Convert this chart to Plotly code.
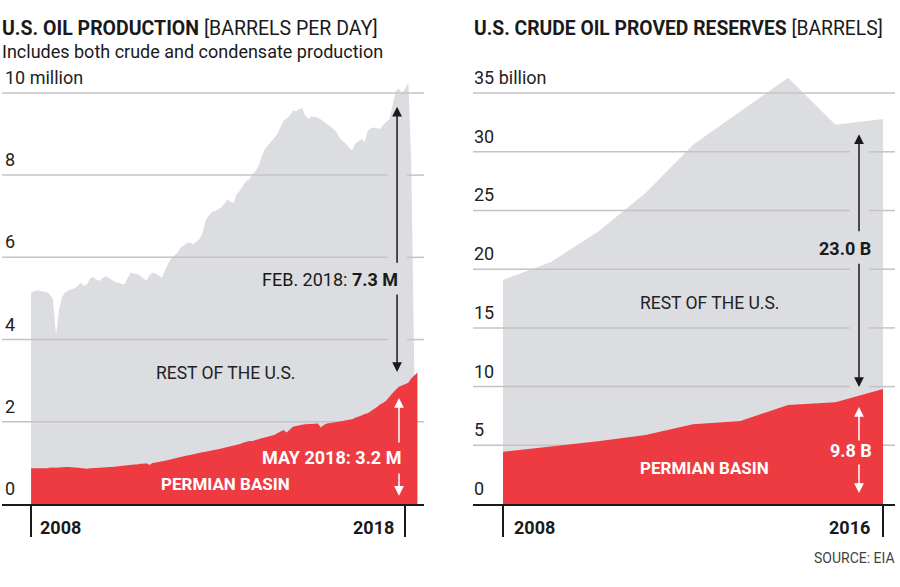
import plotly.graph_objects as go
import pandas as pd

# ---------------- DATA ----------------
# Left: monthly U.S. oil production (million barrels per day), Jan 2008 onward
total_prod = [
    5.15, 5.18, 5.20, 5.18, 5.17, 5.15, 5.10, 4.98, 4.10, 4.75, 5.05, 5.15,   # 2008
    5.20, 5.22, 5.25, 5.30, 5.38, 5.30, 5.35, 5.50, 5.52, 5.45, 5.43, 5.50,   # 2009
    5.54, 5.50, 5.45, 5.40, 5.38, 5.35, 5.34, 5.50, 5.63, 5.60, 5.60, 5.55,   # 2010
    5.48, 5.43, 5.55, 5.63, 5.60, 5.56, 5.51, 5.68, 5.85, 5.97, 6.05, 6.12,   # 2011
    6.24, 6.30, 6.35, 6.36, 6.32, 6.38, 6.44, 6.60, 6.90, 7.02, 7.10, 7.13,   # 2012
    7.17, 7.22, 7.30, 7.40, 7.35, 7.32, 7.54, 7.62, 7.75, 7.85, 7.90, 8.02,   # 2013
    8.10, 8.23, 8.45, 8.63, 8.72, 8.80, 8.90, 9.00, 9.15, 9.32, 9.38, 9.45,   # 2014
    9.57, 9.55, 9.60, 9.63, 9.45, 9.37, 9.43, 9.42, 9.40, 9.35, 9.30, 9.25,   # 2015
    9.18, 9.12, 9.05, 8.90, 8.84, 8.76, 8.68, 8.60, 8.76, 8.82, 8.88, 8.80,   # 2016
    9.08, 9.14, 9.16, 9.14, 9.12, 9.22, 9.30, 9.35, 9.75, 10.05, 10.10, 10.00,  # 2017
    10.10, 10.26, 8.40, 3.10,                                                 # 2018
]
permian_prod = [
    0.87, 0.87, 0.86, 0.86, 0.86, 0.87, 0.88, 0.89, 0.88, 0.89, 0.90, 0.90,   # 2008
    0.90, 0.90, 0.89, 0.88, 0.87, 0.86, 0.86, 0.87, 0.87, 0.88, 0.88, 0.89,   # 2009
    0.90, 0.90, 0.90, 0.91, 0.92, 0.93, 0.94, 0.94, 0.95, 0.96, 0.96, 0.98,   # 2010
    0.98, 0.99, 0.95, 1.00, 1.01, 1.02, 1.03, 1.05, 1.07, 1.09, 1.11, 1.13,   # 2011
    1.14, 1.16, 1.18, 1.19, 1.21, 1.22, 1.24, 1.26, 1.27, 1.29, 1.30, 1.32,   # 2012
    1.33, 1.35, 1.36, 1.37, 1.39, 1.41, 1.43, 1.46, 1.49, 1.51, 1.53, 1.53,   # 2013
    1.56, 1.58, 1.60, 1.62, 1.64, 1.67, 1.68, 1.72, 1.77, 1.80, 1.74, 1.82,   # 2014
    1.88, 1.90, 1.92, 1.93, 1.94, 1.94, 1.95, 1.95, 1.96, 1.86, 1.93, 1.96,   # 2015
    1.97, 1.98, 1.99, 2.00, 2.02, 2.04, 2.05, 2.06, 2.10, 2.12, 2.15, 2.19,   # 2016
    2.21, 2.26, 2.30, 2.36, 2.42, 2.46, 2.52, 2.62, 2.70, 2.78, 2.85, 2.88,   # 2017
    2.92, 2.95, 3.05, 3.12, 3.20,                                             # 2018
]
months_total = pd.date_range("2008-01-01", periods=len(total_prod), freq="MS")
months_perm = pd.date_range("2008-01-01", periods=len(permian_prod), freq="MS")

# Right: yearly proved reserves (billion barrels)
years = [2008, 2009, 2010, 2011, 2012, 2013, 2014, 2015, 2016]
total_res = [19.1, 20.6, 23.2, 26.5, 30.6, 33.45, 36.3, 32.3, 32.8]
permian_res = [4.45, 4.9, 5.35, 5.88, 6.79, 7.07, 8.43, 8.66, 9.8]

# Tick labels
prod_ticks = [0, 2, 4, 6, 8, 10]
prod_ticktext = ["0", "2", "4", "6", "8", "10 million"]
res_ticks = [0, 5, 10, 15, 20, 25, 30, 35]
res_ticktext = ["0", "5", "10", "15", "20", "25", "30", "35 billion"]
prod_xticks = ["2008-01-01", "2018-01-01"]
prod_xlabels = ["2008", "2018"]
res_xticks = [2008, 2016]
res_xlabels = ["2008", "2016"]

# ---------------- STYLE ----------------
GRAY = "#dcdde0"
RED = "#ee3b41"
GRID = "#c4c4c4"
INK = "#1a1a1a"
FONT = "Roboto"
W, H = 900, 587


def px(p):
    return p / W


def py(p):
    return 1 - p / H


L_XRANGE = ["2007-03-23", "2018-07-04"]
R_XRANGE = [2007.368, 2016.253]
L_GAP = ("2017-07-17", "2018-01-20")
R_GAP = (2015.305, 2015.705)


def grid_xy(ticks, xr, gap, gap_ticks):
    xs, ys = [], []
    for t in ticks:
        if t == 0:
            continue
        if t in gap_ticks:
            xs += [xr[0], gap[0], None, gap[1], xr[1], None]
            ys += [t, t, None, t, t, None]
        else:
            xs += [xr[0], xr[1], None]
            ys += [t, t, None]
    return xs, ys


fig = go.Figure()

# Left panel
fig.add_trace(go.Scatter(x=months_total, y=total_prod, fill="tozeroy", mode="lines",
                         line=dict(width=0, color=GRAY), fillcolor=GRAY,
                         hoverinfo="skip", showlegend=False, xaxis="x", yaxis="y"))
gx, gy = grid_xy(prod_ticks, L_XRANGE, L_GAP, [4, 6, 8])
fig.add_trace(go.Scatter(x=gx, y=gy, mode="lines", line=dict(width=1.5, color=GRID),
                         hoverinfo="skip", showlegend=False, xaxis="x", yaxis="y"))
fig.add_trace(go.Scatter(x=months_perm, y=permian_prod, fill="tozeroy", mode="lines",
                         line=dict(width=0, color=RED), fillcolor=RED,
                         hoverinfo="skip", showlegend=False, xaxis="x", yaxis="y"))

# Right panel
fig.add_trace(go.Scatter(x=years, y=total_res, fill="tozeroy", mode="lines",
                         line=dict(width=0, color=GRAY), fillcolor=GRAY,
                         hoverinfo="skip", showlegend=False, xaxis="x2", yaxis="y2"))
gx, gy = grid_xy(res_ticks, R_XRANGE, R_GAP, [10, 15, 20, 25, 30])
fig.add_trace(go.Scatter(x=gx, y=gy, mode="lines", line=dict(width=1.5, color=GRID),
                         hoverinfo="skip", showlegend=False, xaxis="x2", yaxis="y2"))
fig.add_trace(go.Scatter(x=years, y=permian_res, fill="tozeroy", mode="lines",
                         line=dict(width=0, color=RED), fillcolor=RED,
                         hoverinfo="skip", showlegend=False, xaxis="x2", yaxis="y2"))

xcommon = dict(showgrid=False, zeroline=False, showline=True, linecolor=INK, linewidth=1.5,
               ticks="outside", ticklen=31, tickwidth=1.5, tickcolor=INK,
               showticklabels=False, fixedrange=True)
ycommon = dict(showgrid=False, zeroline=False, showline=False, ticks="",
               showticklabels=False, fixedrange=True)

fig.update_layout(
    width=W, height=H, margin=dict(l=0, r=0, t=0, b=0),
    paper_bgcolor="white", plot_bgcolor="white",
    font=dict(family=FONT, color=INK),
    xaxis=dict(domain=[px(2), px(424)], type="date", range=L_XRANGE,
               tickvals=prod_xticks, anchor="y", **xcommon),
    yaxis=dict(domain=[py(504), py(60)], range=[0, 10.8], tickvals=prod_ticks,
               anchor="x", **ycommon),
    xaxis2=dict(domain=[px(473), px(895)], range=R_XRANGE,
                tickvals=res_xticks, anchor="y2", **xcommon),
    yaxis2=dict(domain=[py(504), py(60)], range=[0, 37.82], tickvals=res_ticks,
                anchor="x2", **ycommon),
)

ann = []
# Titles
ann.append(dict(xref="paper", yref="paper", x=px(0), y=py(28), xanchor="left", yanchor="middle",
                text="<b>U.S. OIL PRODUCTION</b> [BARRELS PER DAY]",
                font=dict(family=FONT, size=19.5, color=INK), showarrow=False))
ann.append(dict(xref="paper", yref="paper", x=px(0), y=py(52), xanchor="left", yanchor="middle",
                text="Includes both crude and condensate production",
                font=dict(family=FONT, size=18, color=INK), showarrow=False))
ann.append(dict(xref="paper", yref="paper", x=px(472), y=py(28), xanchor="left", yanchor="middle",
                text="<b>U.S. CRUDE OIL PROVED RESERVES</b> [BARRELS]",
                font=dict(family=FONT, size=19.3, color=INK), showarrow=False))
ann.append(dict(xref="paper", yref="paper", x=px(897), y=py(558), xanchor="right", yanchor="middle",
                text="SOURCE: EIA", font=dict(family=FONT, size=14, color="#444"), showarrow=False))

# Y tick labels (sitting just above each gridline, inside the plot)
for yv, lab in zip(prod_ticks, prod_ticktext):
    ann.append(dict(xref="x domain", yref="y", x=0, y=yv, xanchor="left", yanchor="bottom",
                    xshift=1, yshift=3, text=lab, showarrow=False,
                    font=dict(family=FONT, size=18, color="#222")))
for yv, lab in zip(res_ticks, res_ticktext):
    ann.append(dict(xref="x2 domain", yref="y2", x=0, y=yv, xanchor="left", yanchor="bottom",
                    xshift=-1, yshift=3, text=lab, showarrow=False,
                    font=dict(family=FONT, size=18, color="#222")))

# X tick labels
for xv, lab, anchor, shift in [(prod_xticks[0], prod_xlabels[0], "left", 7),
                               (prod_xticks[1], prod_xlabels[1], "right", -9)]:
    ann.append(dict(xref="x", yref="paper", x=xv, y=py(527), xanchor=anchor, yanchor="middle",
                    xshift=shift, text=f"<b>{lab}</b>", font=dict(family=FONT, size=18, color=INK),
                    showarrow=False))
for xv, lab, anchor, shift in [(res_xticks[0], res_xlabels[0], "left", 9),
                               (res_xticks[1], res_xlabels[1], "right", -11)]:
    ann.append(dict(xref="x2", yref="paper", x=xv, y=py(527), xanchor=anchor, yanchor="middle",
                    xshift=shift, text=f"<b>{lab}</b>", font=dict(family=FONT, size=18, color=INK),
                    showarrow=False))

# Left panel labels
ann.append(dict(xref="x", yref="y", x="2013-03-17", y=3.19, text="REST OF THE U.S.",
                font=dict(family=FONT, size=17.5, color="#222"), showarrow=False))
ann.append(dict(xref="x", yref="y", x="2013-03-17", y=0.49, text="<b>PERMIAN BASIN</b>",
                font=dict(family=FONT, size=17, color="white"), showarrow=False))
ann.append(dict(xref="x", yref="y", x="2017-11-13", y=5.45, xanchor="right",
                text="FEB. 2018: <b>7.3 M</b>",
                font=dict(family=FONT, size=18, color=INK), showarrow=False))
ann.append(dict(xref="x", yref="y", x="2017-12-12", y=1.13, xanchor="right",
                text="<b>MAY 2018: 3.2 M</b>",
                font=dict(family=FONT, size=18, color="white"), showarrow=False))

# Right panel labels
ann.append(dict(xref="x2", yref="y2", x=2012.34, y=17.12, text="REST OF THE U.S.",
                font=dict(family=FONT, size=17.5, color="#222"), showarrow=False))
ann.append(dict(xref="x2", yref="y2", x=2012.25, y=3.07, text="<b>PERMIAN BASIN</b>",
                font=dict(family=FONT, size=17, color="white"), showarrow=False))
ann.append(dict(xref="x2", yref="y2", x=2015.2, y=21.8, text="<b>23.0 B</b>",
                font=dict(family=FONT, size=18, color=INK), showarrow=False))
ann.append(dict(xref="x2", yref="y2", x=2015.33, y=4.6, text="<b>9.8 B</b>",
                font=dict(family=FONT, size=18, color="white"), showarrow=False))


def arrow(xr, yr, x, tip, tail, color):
    return dict(xref=xr, yref=yr, x=x, y=tip, axref=xr, ayref=yr, ax=x, ay=tail, text="",
                showarrow=True, arrowhead=2, arrowsize=1.3, arrowwidth=1.5, arrowcolor=color,
                standoff=0, startstandoff=0)


LX = "2017-10-14"
ann += [arrow("x", "y", LX, 9.66, 5.83, INK), arrow("x", "y", LX, 3.21, 5.13, INK)]
WX = "2017-11-02"
ann += [arrow("x", "y", WX, 2.58, 1.46, "white"), arrow("x", "y", WX, 0.2, 0.78, "white")]
RX = 2015.495
ann += [arrow("x2", "y2", RX, 31.5, 23.1, INK), arrow("x2", "y2", RX, 9.97, 20.6, INK)]
ann += [arrow("x2", "y2", RX, 8.26, 5.28, "white"), arrow("x2", "y2", RX, 0.94, 3.49, "white")]

fig.update_layout(annotations=ann)
fig.write_html("out.html", config={"displayModeBar": False},
               post_script="document.body.style.margin='0px';")
